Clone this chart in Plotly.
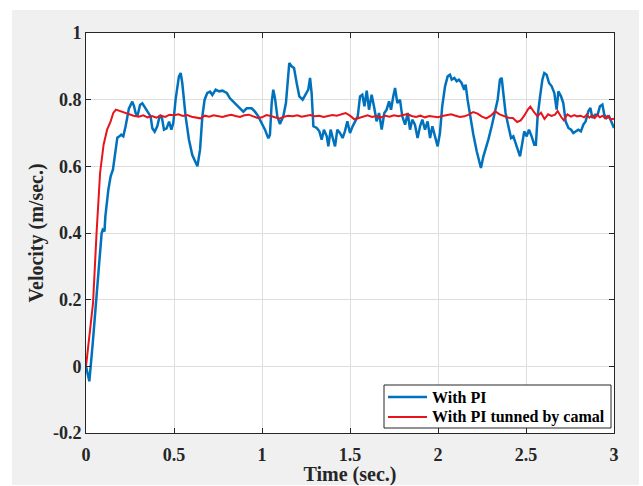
import plotly.graph_objects as go

# Velocity response, plain PI controller
pi_t = [0, 0.019, 0.04, 0.06, 0.075, 0.089, 0.095, 0.105, 0.11, 0.127, 0.14, 0.153, 0.165, 0.178,
        0.19, 0.2, 0.212, 0.225, 0.244, 0.263, 0.273, 0.282, 0.292, 0.307, 0.32, 0.339, 0.358,
        0.367, 0.377, 0.39, 0.405, 0.42, 0.432, 0.443, 0.458, 0.472, 0.485, 0.496, 0.509, 0.519,
        0.528, 0.538, 0.547, 0.566, 0.585, 0.604, 0.623, 0.633, 0.648, 0.661, 0.674, 0.689, 0.705,
        0.718, 0.737, 0.756, 0.775, 0.80, 0.818, 0.847, 0.875, 0.894, 0.913, 0.941, 0.96, 0.979,
        0.998, 1.017, 1.036, 1.045, 1.055, 1.064, 1.074, 1.087, 1.102, 1.121, 1.136, 1.146, 1.155,
        1.168, 1.182, 1.197, 1.212, 1.231, 1.25, 1.263, 1.273, 1.282, 1.292, 1.311, 1.326, 1.339,
        1.352, 1.368, 1.377, 1.39, 1.402, 1.415, 1.428, 1.443, 1.458, 1.471, 1.485, 1.5, 1.515,
        1.528, 1.544, 1.557, 1.57, 1.582, 1.595, 1.608, 1.623, 1.638, 1.651, 1.665, 1.68, 1.695,
        1.708, 1.722, 1.733, 1.746, 1.756, 1.769, 1.784, 1.797, 1.813, 1.828, 1.841, 1.854, 1.869,
        1.884, 1.898, 1.911, 1.926, 1.941, 1.955, 1.968, 1.983, 1.998, 2.011, 2.024, 2.04, 2.055,
        2.068, 2.078, 2.093, 2.106, 2.119, 2.134, 2.149, 2.157, 2.168, 2.182, 2.201, 2.22, 2.233,
        2.244, 2.258, 2.27, 2.286, 2.305, 2.324, 2.339, 2.352, 2.362, 2.371, 2.384, 2.40, 2.415,
        2.428, 2.441, 2.456, 2.466, 2.479, 2.49, 2.504, 2.517, 2.532, 2.547, 2.556, 2.566, 2.58,
        2.593, 2.604, 2.617, 2.631, 2.646, 2.661, 2.674, 2.684, 2.699, 2.712, 2.725, 2.741, 2.756,
        2.769, 2.782, 2.797, 2.812, 2.826, 2.839, 2.854, 2.866, 2.877, 2.892, 2.907, 2.92, 2.934,
        2.945, 2.958, 2.972, 2.983, 3.0]
pi_v = [0, -0.045, 0.08, 0.20, 0.31, 0.40, 0.41, 0.405, 0.45, 0.53, 0.57, 0.59, 0.64, 0.686,
        0.69, 0.695, 0.69, 0.72, 0.774, 0.794, 0.78, 0.76, 0.75, 0.784, 0.789, 0.774, 0.76,
        0.75, 0.714, 0.704, 0.72, 0.754, 0.744, 0.71, 0.714, 0.734, 0.71, 0.73, 0.80, 0.84,
        0.87, 0.88, 0.85, 0.75, 0.68, 0.634, 0.61, 0.60, 0.65, 0.75, 0.80, 0.82, 0.824,
        0.814, 0.83, 0.825, 0.827, 0.82, 0.804, 0.79, 0.774, 0.764, 0.774, 0.774, 0.764, 0.75,
        0.73, 0.71, 0.684, 0.694, 0.79, 0.83, 0.804, 0.75, 0.727, 0.75, 0.79, 0.85, 0.91,
        0.90, 0.895, 0.85, 0.81, 0.80, 0.82, 0.83, 0.865, 0.82, 0.72, 0.715, 0.705, 0.68,
        0.71, 0.69, 0.66, 0.71, 0.685, 0.66, 0.71, 0.70, 0.685, 0.705, 0.735, 0.70, 0.72,
        0.735, 0.75, 0.81, 0.815, 0.78, 0.827, 0.77, 0.815, 0.775, 0.735, 0.76, 0.71, 0.76,
        0.77, 0.795, 0.77, 0.81, 0.835, 0.79, 0.80, 0.75, 0.725, 0.76, 0.71, 0.74, 0.725,
        0.685, 0.72, 0.74, 0.71, 0.735, 0.685, 0.72, 0.69, 0.66, 0.70, 0.78, 0.84, 0.87,
        0.875, 0.86, 0.865, 0.855, 0.86, 0.85, 0.83, 0.845, 0.80, 0.75, 0.695, 0.645, 0.62,
        0.595, 0.63, 0.65, 0.68, 0.72, 0.764, 0.80, 0.86, 0.865, 0.82, 0.76, 0.72, 0.685,
        0.69, 0.67, 0.65, 0.63, 0.67, 0.705, 0.69, 0.71, 0.69, 0.665, 0.665, 0.75, 0.81,
        0.86, 0.88, 0.875, 0.85, 0.84, 0.82, 0.77, 0.825, 0.81, 0.79, 0.735, 0.715, 0.71,
        0.70, 0.705, 0.71, 0.705, 0.725, 0.735, 0.765, 0.775, 0.745, 0.755, 0.755, 0.78, 0.785,
        0.755, 0.745, 0.75, 0.735, 0.715]

# Velocity response, PI gains tuned by the camel algorithm
camal_t = [0, 0.02, 0.04, 0.06, 0.08, 0.10, 0.12, 0.14, 0.155, 0.17, 0.19, 0.21, 0.23, 0.25, 0.27,
           0.30, 0.325, 0.35, 0.375, 0.40, 0.425, 0.45, 0.475, 0.50, 0.525, 0.55, 0.575, 0.60,
           0.625, 0.65, 0.675, 0.70, 0.725, 0.75, 0.775, 0.80, 0.825, 0.85, 0.875, 0.90, 0.925,
           0.95, 0.975, 1.00, 1.025, 1.05, 1.075, 1.10, 1.125, 1.15, 1.175, 1.20, 1.225, 1.25,
           1.275, 1.30, 1.325, 1.35, 1.375, 1.40, 1.425, 1.45, 1.475, 1.50, 1.525, 1.55, 1.575,
           1.60, 1.625, 1.65, 1.675, 1.70, 1.725, 1.75, 1.775, 1.80, 1.825, 1.85, 1.875, 1.90,
           1.925, 1.95, 1.975, 2.00, 2.025, 2.05, 2.075, 2.10, 2.125, 2.15, 2.175, 2.20, 2.225,
           2.25, 2.275, 2.30, 2.325, 2.35, 2.375, 2.40, 2.425, 2.45, 2.47, 2.49, 2.51, 2.525,
           2.545, 2.565, 2.585, 2.605, 2.625, 2.645, 2.665, 2.68, 2.70, 2.715, 2.735, 2.755,
           2.775, 2.79, 2.81, 2.83, 2.845, 2.86, 2.875, 2.89, 2.905, 2.92, 2.935, 2.95, 2.965,
           2.98, 3.00]
camal_v = [0, 0.09, 0.19, 0.40, 0.58, 0.665, 0.71, 0.735, 0.76, 0.770, 0.766, 0.762, 0.758, 0.756,
           0.752, 0.749, 0.753, 0.747, 0.751, 0.746, 0.752, 0.748, 0.755, 0.753, 0.756, 0.751,
           0.754, 0.749, 0.746, 0.744, 0.752, 0.749, 0.753, 0.750, 0.748, 0.752, 0.755, 0.751,
           0.748, 0.753, 0.755, 0.750, 0.745, 0.747, 0.754, 0.751, 0.746, 0.743, 0.749, 0.752,
           0.750, 0.753, 0.749, 0.751, 0.754, 0.750, 0.752, 0.748, 0.751, 0.754, 0.752, 0.756,
           0.760, 0.752, 0.741, 0.745, 0.750, 0.753, 0.748, 0.751, 0.747, 0.752, 0.749, 0.753,
           0.750, 0.754, 0.757, 0.751, 0.748, 0.752, 0.747, 0.751, 0.749, 0.747, 0.751, 0.754,
           0.756, 0.752, 0.748, 0.750, 0.755, 0.763, 0.758, 0.749, 0.744, 0.752, 0.765, 0.756,
           0.750, 0.746, 0.745, 0.733, 0.738, 0.752, 0.770, 0.779, 0.763, 0.750, 0.761, 0.742,
           0.756, 0.751, 0.755, 0.766, 0.748, 0.738, 0.756, 0.749, 0.754, 0.750, 0.752, 0.747,
           0.755, 0.746, 0.753, 0.745, 0.754, 0.747, 0.752, 0.744, 0.751, 0.741, 0.743]

series_names = ["With PI", "With PI tunned by camal"]
series_colors = ["#0072BD", "#E8141C"]
series_widths = [2.5, 2]

x_ticks = [0, 0.5, 1, 1.5, 2, 2.5, 3]
x_labels = ["0", "0.5", "1", "1.5", "2", "2.5", "3"]
y_ticks = [-0.2, 0, 0.2, 0.4, 0.6, 0.8, 1]
y_labels = ["-0.2", "0", "0.2", "0.4", "0.6", "0.8", "1"]

SERIF = "Liberation Serif, Times New Roman, serif"
INK = "#262626"

fig = go.Figure()
for t, v, name, color, width in zip([pi_t, camal_t], [pi_v, camal_v],
                                    series_names, series_colors, series_widths):
    fig.add_trace(go.Scatter(x=t, y=v, mode="lines", name=name,
                             line=dict(color=color, width=width), showlegend=False))

W, H = 643, 486
L, R, T, B = 86, 29, 33, 53
pw, ph = W - L - R, H - T - B

def px(xp):
    return (xp - L) / pw

def py(yp):
    return (H - B - yp) / ph

shapes = [
    # grey figure window
    dict(type="rect", xref="paper", yref="paper", x0=px(12), x1=px(639), y0=py(485), y1=py(10),
         fillcolor="#f0f0f0", line=dict(width=0), layer="below"),
    # white axes background
    dict(type="rect", xref="paper", yref="paper", x0=0, x1=1, y0=0, y1=1,
         fillcolor="white", line=dict(width=0), layer="below"),
    # legend box
    dict(type="rect", xref="paper", yref="paper", x0=px(384), x1=px(611), y0=py(428), y1=py(385),
         fillcolor="white", line=dict(color=INK, width=1), layer="above"),
]
annotations = []
for i, (name, color, width) in enumerate(zip(series_names, series_colors, series_widths)):
    row_y = 397 + 20 * i
    shapes.append(dict(type="line", xref="paper", yref="paper",
                       x0=px(388), x1=px(427), y0=py(row_y), y1=py(row_y),
                       line=dict(color=color, width=width), layer="above"))
    annotations.append(dict(text=name, xref="paper", yref="paper", x=px(430), y=py(row_y),
                            xanchor="left", yanchor="middle", showarrow=False,
                            font=dict(family=SERIF, size=16, color="black", weight="bold")))

axis_common = dict(
    showline=True, linecolor=INK, linewidth=1, mirror="ticks",
    ticks="inside", ticklen=5, tickcolor=INK, tickwidth=1,
    showgrid=True, gridcolor="#dedede", gridwidth=1, zeroline=False,
    automargin=False,
    tickfont=dict(family=SERIF, size=18, color=INK, weight="bold"),
)

fig.update_layout(
    width=W, height=H,
    margin=dict(l=L, r=R, t=T, b=B),
    paper_bgcolor="white", plot_bgcolor="rgba(0,0,0,0)",
    shapes=shapes, annotations=annotations,
    xaxis=dict(range=[0, 3], tickvals=x_ticks, ticktext=x_labels, ticklabelstandoff=5,
               title=dict(text="Time (sec.)", standoff=8,
                          font=dict(family=SERIF, size=20, color=INK, weight="bold")),
               **axis_common),
    yaxis=dict(range=[-0.2, 1], tickvals=y_ticks, ticktext=y_labels,
               title=dict(text="Velocity (m/sec.)", standoff=3,
                          font=dict(family=SERIF, size=20, color=INK, weight="bold")),
               **axis_common),
    showlegend=False,
)

fig.write_html("out.html")
